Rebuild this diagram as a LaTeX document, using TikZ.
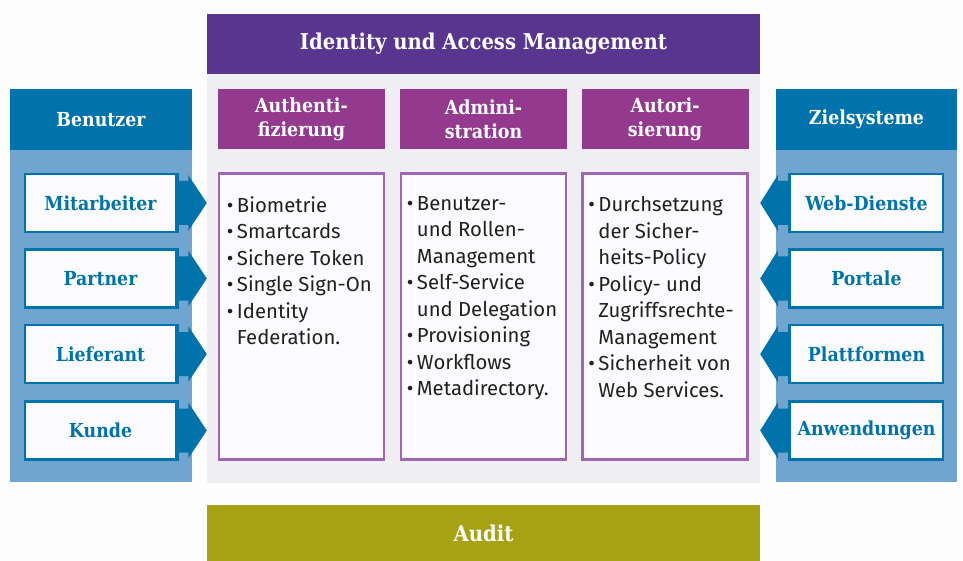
\documentclass[tikz,border=0pt]{standalone}
\usepackage{fontspec}
\setmainfont{Fira Sans}
\newfontfamily\slab{DejaVu Serif Condensed}
\usetikzlibrary{calc}
\definecolor{bgwhite}{HTML}{FDFDFD}
\definecolor{titlepurple}{HTML}{58358F}
\definecolor{subpurple}{HTML}{933A8E}
\definecolor{boxpurple}{HTML}{A066B4}
\definecolor{panelgray}{HTML}{EFEFF3}
\definecolor{dkblue}{HTML}{0073AD}
\definecolor{ltblue}{HTML}{6FA5CF}
\definecolor{olive}{HTML}{A6A214}
\definecolor{bodytext}{HTML}{231F20}
\definecolor{boxfill}{HTML}{FBFBFE}
\newcommand{\bul}{\makebox[10pt][l]{\textbullet}}
\newcommand{\ind}{\hspace*{10pt}}
\tikzset{
  bar/.style={fill=#1, draw=none, inner sep=0pt, text=white, font=\slab\bfseries\fontsize{21.8}{26}\selectfont},
  subhead/.style={fill=subpurple, draw=none, inner sep=0pt, minimum width=167pt, minimum height=60pt, text=white, align=center, font=\slab\bfseries\fontsize{19.4}{24}\selectfont},
  content/.style={fill=boxfill, draw=boxpurple, line width=2.5pt, inner sep=0pt, minimum width=165pt, minimum height=286pt},
  bodytxt/.style={anchor=north west, inner sep=0pt, align=left, text=bodytext, font=\fontsize{20.3}{26.5}\selectfont},
  item/.style={fill=boxfill, draw=dkblue, line width=2.5pt, inner sep=0pt, minimum height=58pt, text=dkblue, font=\slab\bfseries\fontsize{19.3}{22}\selectfont},
  sidehead/.style={fill=dkblue, draw=none, inner sep=0pt, minimum height=61pt, text=white, font=\slab\bfseries\fontsize{19.3}{22}\selectfont},
  arrowfill/.style={fill=dkblue, draw=none}
}
\begin{document}
\begin{tikzpicture}[x=1pt,y=-1pt]
\useasboundingbox (0,0) rectangle (963,561);
\fill[bgwhite] (0,0) rectangle (963,561);
% central panel
\node[fill=panelgray, inner sep=0pt, minimum width=553pt, minimum height=409pt] (gp) at (483.5,278.5) {};
\node[bar=titlepurple, minimum width=553pt, minimum height=60pt] (title) at (483.5,44) {Identity und Access Management};
\node[subhead] (s1) at (301.5,119) {Authenti-\\fizierung};
\node[subhead] (s2) at (483.5,119) {Admini-\\stration};
\node[subhead] (s3) at (665,119) {Autori-\\sierung};
\node[content] (c1) at (301.5,316.5) {};
\node[content] (c2) at (483.5,316.5) {};
\node[content] (c3) at (665,316.5) {};
\node[bodytxt] (t1) at ($(c1.north west)+(9,24)$) {\bul Biometrie\\\bul Smartcards\\\bul Sichere Token\\\bul Single Sign-On\\\bul Identity\\\ind Federation.};
\node[bodytxt] (t2) at ($(c2.north west)+(7,24)$) {\bul Benutzer-\\\ind und Rollen-\\\ind Management\\\bul Self-Service\\\ind und Delegation\\\bul Provisioning\\\bul Workflows\\\bul Metadirectory.};
\node[bodytxt] (t3) at ($(c3.north west)+(7,24)$) {\bul Durchsetzung\\\ind der Sicher-\\\ind heits-Policy\\\bul Policy- und\\\ind Zugriffsrechte-\\\ind Management\\\bul Sicherheit von\\\ind Web Services.};
% audit
\node[bar=olive, minimum width=553pt, minimum height=56pt] (audit) at (483.5,533) {Audit};
% left panel
\node[fill=ltblue, inner sep=0pt, minimum width=182pt, minimum height=332pt] (lp) at (101,316) {};
\node[sidehead, minimum width=182pt] (lh) at (101,119.5) {Benutzer};
% right panel
\node[fill=ltblue, inner sep=0pt, minimum width=181pt, minimum height=332pt] (rp) at (866.5,316) {};
\node[sidehead, minimum width=181pt] (rh) at (866.5,119.5) {Zielsysteme};
% item positions
\coordinate (la) at (100.5,203);
\coordinate (lb) at (100.5,278.5);
\coordinate (lc) at (100.5,354);
\coordinate (ld) at (100.5,430.5);
\coordinate (ra) at (866.5,203);
\coordinate (rb) at (866.5,278.5);
\coordinate (rc) at (866.5,354);
\coordinate (rd) at (866.5,430.5);
\node[item, minimum width=151pt] (m1) at (la) {Mitarbeiter};
\node[item, minimum width=151pt] (m2) at (lb) {Partner};
\node[item, minimum width=151pt] (m3) at (lc) {Lieferant};
\node[item, minimum width=151pt] (m4) at (ld) {Kunde};
\node[item, minimum width=153pt] (z1) at (ra) {Web-Dienste};
\node[item, minimum width=153pt] (z2) at (rb) {Portale};
\node[item, minimum width=153pt] (z3) at (rc) {Plattformen};
\node[item, minimum width=153pt] (z4) at (rd) {Anwendungen};
% arrows
\foreach \m in {m1,m2,m3,m4}{
  \fill[arrowfill] ($(\m.east)+(-1,-22)$) -- ($(\m.east)+(11,-22)$) -- ($(\m.east)+(11,-28)$)
    -- (\m.east -| gp.west) -- ($(\m.east)+(11,28)$) -- ($(\m.east)+(11,22)$) -- ($(\m.east)+(-1,22)$) -- cycle;
  \draw[dkblue, line width=2.5pt] (\m.north east) -- (\m.south east);
}
\foreach \z in {z1,z2,z3,z4}{
  \fill[arrowfill] ($(\z.west)+(1,-22)$) -- ($(\z.west)+(-11,-22)$) -- ($(\z.west)+(-11,-28)$)
    -- (\z.west -| gp.east) -- ($(\z.west)+(-11,28)$) -- ($(\z.west)+(-11,22)$) -- ($(\z.west)+(1,22)$) -- cycle;
  \draw[dkblue, line width=2.5pt] (\z.north west) -- (\z.south west);
}
\end{tikzpicture}
\end{document}
